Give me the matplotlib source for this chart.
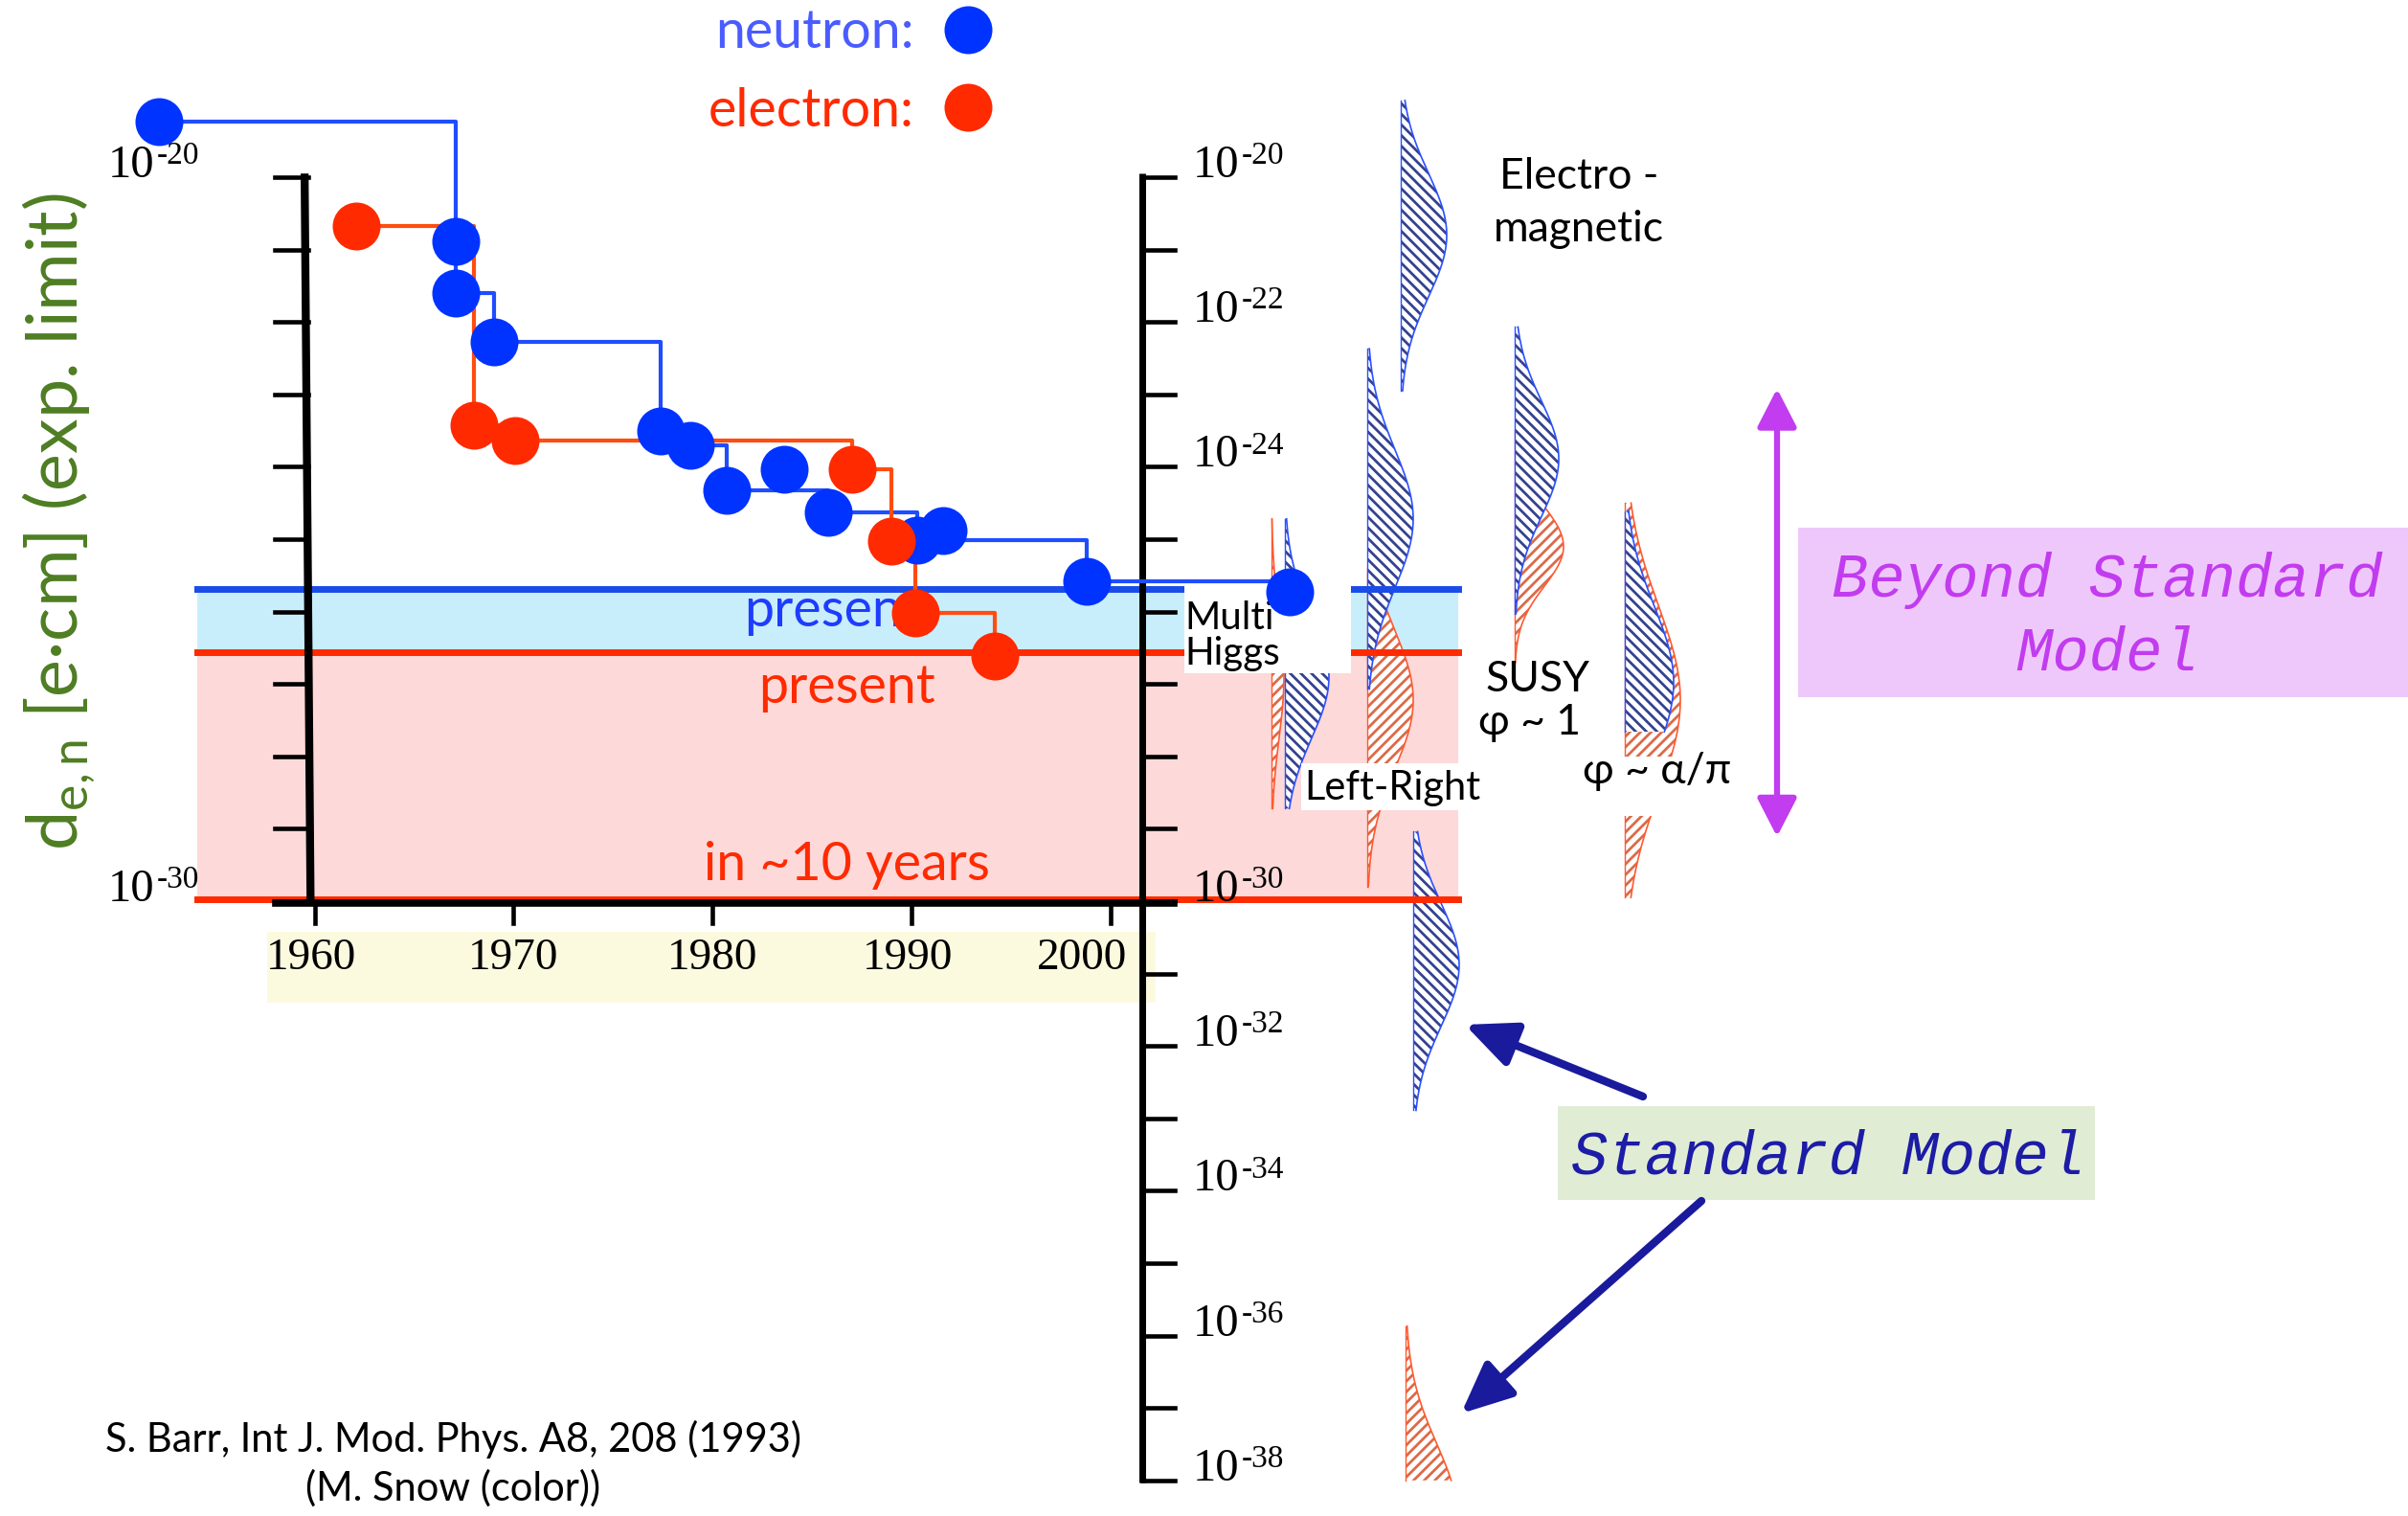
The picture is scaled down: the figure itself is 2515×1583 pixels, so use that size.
import matplotlib
matplotlib.use('Agg')
import matplotlib.pyplot as plt
import matplotlib.transforms as mtransforms
from matplotlib.patches import Rectangle
from matplotlib.lines import Line2D
import numpy as np

plt.rcParams['font.family'] = ['Lato', 'Open Sans', 'DejaVu Sans']
plt.rcParams['mathtext.fontset'] = 'custom'
plt.rcParams['mathtext.rm'] = 'Lato'
plt.rcParams['mathtext.it'] = 'Lato:italic'
plt.rcParams['mathtext.bf'] = 'Lato:bold'
plt.rcParams['hatch.linewidth'] = 2.0

# measured EDM limits (year, log10 of limit in e*cm)
neutron_year = [1952.2, 1967.1, 1967.1, 1969.0, 1977.4, 1978.9, 1980.7,
                1983.6, 1985.8, 1990.3, 1991.6, 1998.8, 2009.0]
neutron_log = [-19.23, -20.89, -21.60, -22.28, -23.51, -23.71, -24.32,
               -24.03, -24.63, -25.01, -24.88, -25.58, -25.73]
electron_year = [1962.1, 1968.0, 1970.1, 1987.0, 1989.0, 1990.2, 1994.2]
electron_log = [-20.68, -23.43, -23.64, -24.03, -25.03, -26.02, -26.61]

present_neutron = -25.69
present_electron = -26.56
future_electron = -29.98
band_years = [1954.1, 2017.5]

year_ticks = [1960, 1970, 1980, 1990, 2000]
left_decades = list(range(-20, -31, -1))
right_decades = list(range(-20, -39, -1))
right_labels = [-20, -22, -24, -30, -32, -34, -36, -38]

# theory expectations: centre / spread / extent in log10(d)
models = ['Electromagnetic', 'Multi Higgs', 'Left-Right', 'SUSY phi~1', 'SUSY phi~alpha/pi', 'Standard Model']
n_center = [-20.8, -26.9, -24.72, -23.89, -26.98, -30.88]
n_sigma = [0.85, 0.85, 0.95, 0.8, 1.05, 0.85]
n_lo = [-22.95, -28.72, -27.07, -26.03, -27.66, -32.89]
n_hi = [-18.94, -24.72, -22.37, -22.07, -24.61, -29.04]
e_center = [np.nan, -26.9, -27.22, -25.1, -27.22, -38.5]
e_sigma = [np.nan, 0.85, 0.95, 0.55, 1.3, 1.0]
e_lo = [np.nan, -28.72, -29.8, -26.7, -29.95, -38.0]
e_hi = [np.nan, -24.72, -25.4, -23.5, -24.5, -35.87]

# slide layout (pixels) for the theory columns
n_base = [1463, 1342, 1428, 1582, 1697, 1476]
n_width = [48, 46, 48, 46, 51, 48]
e_base = [0, 1328, 1428, 1582, 1697, 1468]
e_width = [0, 13, 48, 51, 58, 54]

BLUE = '#1f4dff'
RED = '#ff2a00'
RED_STEP = '#ff4d10'

fig = plt.figure(figsize=(25.15, 15.83), dpi=100)
ax = fig.add_axes([0, 0, 1, 1])
ax.set_yscale('log')
ax.set_xlim(1944.19, 2065.22)
ax.set_ylim(10 ** -38.492, 10 ** -17.553)
ax.set_autoscale_on(False)
ax.axis('off')

px = mtransforms.Affine2D().scale(1 / 2515, -1 / 1583).translate(0, 1) + fig.transFigure
col = mtransforms.blended_transform_factory(px, ax.transData)


def box(x0, y0, x1, y1, color, z):
    ax.add_patch(Rectangle((x0, y0), x1 - x0, y1 - y0, transform=px,
                           facecolor=color, edgecolor='none', zorder=z))


# present limits and the 10 year goal
ax.fill_between(band_years, 10 ** present_neutron, 10 ** present_electron,
                color='#c9eefb', lw=0, zorder=1)
ax.fill_between(band_years, 10 ** present_electron, 10 ** future_electron,
                color='#fdd9d9', lw=0, zorder=1)
ax.plot(band_years, [10 ** present_neutron] * 2, color='#1a4ce8', lw=5, zorder=3)
ax.plot(band_years, [10 ** present_electron] * 2, color=RED, lw=5, zorder=3)
ax.plot(band_years, [10 ** future_electron] * 2, color=RED, lw=5, zorder=3)

# hand drawn axes
ax.plot([1959.5, 1959.8], [10 ** -19.95, 10 ** -30.05], color='k', lw=6, zorder=3.5,
        solid_capstyle='butt')
for k in left_decades:
    ax.plot([1958.0, 1959.7], [10.0 ** k] * 2, color='k', lw=3.3, zorder=3.5)
ax.plot([1958.05, 2003.2], [10 ** -30.03] * 2, color='k', lw=5.5, zorder=3.5)
for yr in year_ticks:
    ax.plot([yr, yr], [10 ** -30.03, 10 ** -30.3], color='k', lw=3.3, zorder=3.5)
ax.plot([2001.6, 2001.6], [10 ** -19.95, 10 ** -38.03], color='k', lw=5, zorder=3.5,
        solid_capstyle='butt')
for k in right_decades:
    ax.plot([2001.6, 2003.24], [10.0 ** k] * 2, color='k', lw=3.3, zorder=3.5)

box(279, 973, 1207, 1047, '#fbfadf', 0.5)
year_nudge = [-4, 0, 0, -4, -30]
for yr, dx in zip(year_ticks, year_nudge):
    ax.annotate(str(yr), xy=(yr, 10 ** -30.03), xytext=(dx, -57),
                textcoords='offset pixels', ha='center', va='center',
                family='Liberation Serif', fontsize=34, zorder=4)

for k in (-20, -30):
    ax.annotate('10', xy=(1958.0, 10.0 ** k), xytext=(-126, 12), textcoords='offset pixels',
                ha='right', va='center', family='Liberation Serif', fontsize=35)
    ax.annotate(str(k), xy=(1958.0, 10.0 ** k), xytext=(-123, 22), textcoords='offset pixels',
                ha='left', va='center', family='Liberation Serif', fontsize=24)
for k in right_labels:
    ax.annotate('10', xy=(2003.24, 10.0 ** k), xytext=(19, 12), textcoords='offset pixels',
                ha='left', va='center', family='Liberation Serif', fontsize=35)
    ax.annotate(str(k), xy=(2003.24, 10.0 ** k), xytext=(70, 22), textcoords='offset pixels',
                ha='left', va='center', family='Liberation Serif', fontsize=24)


# theory distributions
def bump(base, width, c, s, lo, hi, hatch, hcol, lcol, z):
    t = np.linspace(lo, hi, 300)
    w = width * np.exp(-0.5 * ((t - c) / s) ** 2)
    ax.fill_betweenx(10 ** t, base, base + w, transform=col, facecolor='white',
                     edgecolor=hcol, hatch=hatch, linewidth=0, zorder=z)
    ax.plot(base + w, 10 ** t, transform=col, color=lcol, lw=1.2, zorder=z)
    ax.plot([base, base], [10 ** lo, 10 ** hi], transform=col, color=lcol, lw=1.0, zorder=z)


for i in range(len(models)):
    if not np.isnan(e_center[i]):
        bump(e_base[i], e_width[i], e_center[i], e_sigma[i], e_lo[i], e_hi[i],
             '///', '#dc6a48', '#ff5a30', 2)
    bump(n_base[i], n_width[i], n_center[i], n_sigma[i], n_lo[i], n_hi[i],
         '\\\\\\', '#34428f', '#2a50ff', 2.2)

# label patches over the curves
box(1237, 610, 1411, 703, 'white', 4)
box(1359, 797, 1550, 846, 'white', 4)
box(1647, 790, 1813, 852, 'white', 4)

# measured limits: running best limit drawn as steps
ax.step(neutron_year, 10 ** np.minimum.accumulate(neutron_log), where='post',
        color=BLUE, lw=3, zorder=5)
ax.step(electron_year, 10 ** np.minimum.accumulate(electron_log), where='post',
        color=RED_STEP, lw=3, zorder=5)
ax.plot(neutron_year, 10 ** np.array(neutron_log), 'o', color='#0033ff', ms=36,
        mec='none', zorder=6)
ax.plot(electron_year, 10 ** np.array(electron_log), 'o', color=RED, ms=36,
        mec='none', zorder=6.5)

handles = [Line2D([], [], marker='o', ls='none', color='#0033ff', ms=36, mec='none'),
           Line2D([], [], marker='o', ls='none', color=RED, ms=36, mec='none')]
ax.legend(handles, ['neutron:', 'electron:'], markerfirst=False, frameon=False,
          fontsize=40, labelcolor=['#4a5cff', RED], loc='upper left',
          bbox_to_anchor=(740 / 2515, 1 - 9 / 1583), bbox_transform=fig.transFigure,
          borderpad=0, borderaxespad=0, handlelength=1.0, handletextpad=0.5,
          labelspacing=0.55)

# texts
ax.text(777, 654, 'present', transform=px, color='#1e3cff', fontsize=40, zorder=4.5)
ax.text(792, 734, 'present', transform=px, color=RED, fontsize=40, zorder=4.5)
ax.text(735, 919, 'in ~10 years', transform=px, color=RED, fontsize=40, zorder=4.5)

ax.text(62, 545, 'd$_{\\mathrm{e,n}}$ [e·cm] (exp. limit)', transform=px, rotation=90,
        ha='center', va='center', color='#4e7d22', fontsize=53)

ax.text(1649, 197, 'Electro -', transform=px, ha='center', fontsize=32)
ax.text(1649, 252, 'magnetic', transform=px, ha='center', fontsize=32)
ax.text(1237, 657, 'Multi', transform=px, ha='left', fontsize=29, zorder=4.5)
ax.text(1237, 694, 'Higgs', transform=px, ha='left', fontsize=29, zorder=4.5)
ax.text(1362, 835, 'Left-Right', transform=px, ha='left', fontsize=30, zorder=4.5)
ax.text(1606, 722, 'SUSY', transform=px, ha='center', fontsize=32, zorder=4.5)
ax.text(1598, 767, 'φ ~ 1', transform=px, ha='center', fontsize=32, zorder=4.5)
ax.text(1731, 818, 'φ ~ α/π', transform=px, ha='center', fontsize=32, zorder=4.5)

ax.text(473, 1516, 'S. Barr, Int J. Mod. Phys. A8, 208 (1993)', transform=px,
        ha='center', fontsize=30)
ax.text(473, 1567, '(M. Snow (color))', transform=px, ha='center', fontsize=30)

# Beyond Standard Model / Standard Model call-outs
box(1878, 551, 2515, 728, '#efc8fb', 1)
ax.text(2201, 623, 'Beyond Standard', transform=px, ha='center', color='#c23cef',
        family='Liberation Mono', style='italic', fontsize=46)
ax.text(2201, 700, 'Model', transform=px, ha='center', color='#c23cef',
        family='Liberation Mono', style='italic', fontsize=46)
ax.annotate('', xy=(1856, 10 ** -22.92), xytext=(1856, 10 ** -29.11),
            xycoords=col, textcoords=col,
            arrowprops=dict(arrowstyle='<|-|>,head_length=0.7,head_width=0.36',
                            lw=4.5, color='#c23cf0', mutation_scale=35,
                            shrinkA=0, shrinkB=0))

box(1627, 1155, 2188, 1253, '#e1ecd5', 1)
ax.text(1910, 1226, 'Standard Model', transform=px, ha='center', color='#1c1ca6',
        family='Liberation Mono', style='italic', fontsize=46)
arrow = dict(arrowstyle='-|>,head_length=0.8,head_width=0.36', lw=6, color='#1a1a9c',
             mutation_scale=40, shrinkA=0, shrinkB=0)
ax.annotate('', xy=(1530, 1070), xytext=(1716, 1145), xycoords=px, textcoords=px,
            arrowprops=arrow)
ax.annotate('', xy=(1526, 1476), xytext=(1777, 1254), xycoords=px, textcoords=px,
            arrowprops=arrow)

fig.savefig('out.png', dpi=100)
